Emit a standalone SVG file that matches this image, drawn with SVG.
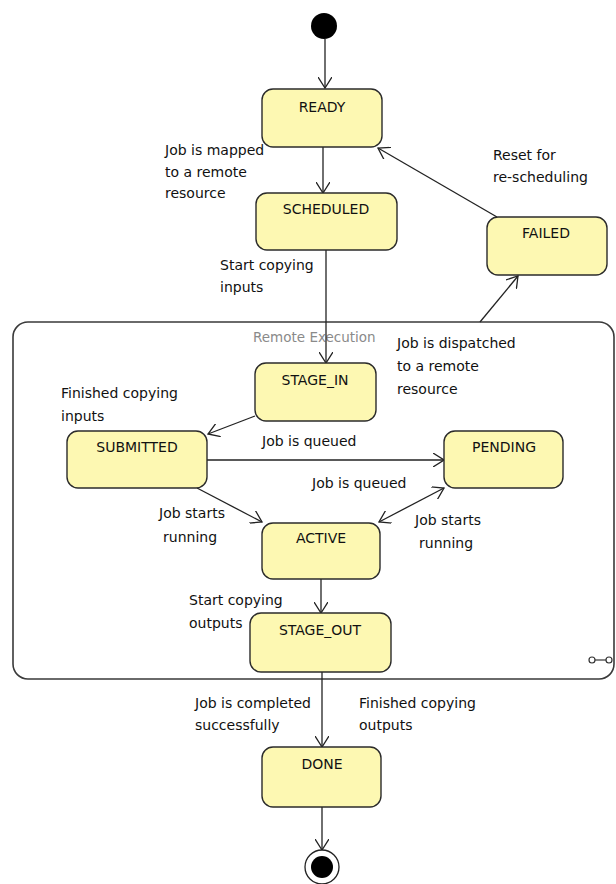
<svg xmlns="http://www.w3.org/2000/svg" width="616" height="884" viewBox="0 0 616 884">
<style>
.st{fill:#fdf8b2;stroke:#2b2b2b;stroke-width:1.4}
.lbl{font-family:"DejaVu Sans",sans-serif;font-size:14px;fill:#111;text-anchor:middle}
.txt{font-family:"DejaVu Sans",sans-serif;font-size:14px;fill:#111}
.gray{font-family:"DejaVu Sans",sans-serif;font-size:13.5px;fill:#8a8a8a}
.ln{stroke:#222;stroke-width:1.3;fill:none}
</style>
<defs>
<marker id="ah" viewBox="0 0 12 14" refX="11" refY="7" markerWidth="12" markerHeight="14" markerUnits="userSpaceOnUse" orient="auto-start-reverse">
<path d="M0,0 L11,7 L0,14" fill="none" stroke="#222" stroke-width="1.3"/>
</marker>
</defs>
<rect width="616" height="884" fill="#fff"/>
<g id="remote-execution">
<rect x="13" y="322" width="601" height="357" rx="15" fill="none" stroke="#3a3a3a" stroke-width="1.6"/>
<text class="gray" x="253" y="342">Remote Execution</text>
<g fill="none" stroke="#333" stroke-width="1.2">
<circle cx="592" cy="660" r="3"/>
<circle cx="609" cy="660" r="3"/>
<line x1="595" y1="660" x2="606" y2="660"/>
</g>
</g>
<g id="connectors">
<line class="ln" x1="325" y1="39" x2="325" y2="88" marker-end="url(#ah)"/>
<line class="ln" x1="323" y1="147" x2="323" y2="193" marker-end="url(#ah)"/>
<line class="ln" x1="326" y1="250" x2="326" y2="363" marker-end="url(#ah)"/>
<line class="ln" x1="497" y1="217" x2="378" y2="148" marker-end="url(#ah)"/>
<line class="ln" x1="480" y1="322" x2="518" y2="276" marker-end="url(#ah)"/>
<line class="ln" x1="255" y1="416" x2="208" y2="434" marker-end="url(#ah)"/>
<line class="ln" x1="207" y1="460" x2="444" y2="460" marker-end="url(#ah)"/>
<line class="ln" x1="197" y1="488" x2="262" y2="522" marker-end="url(#ah)"/>
<line class="ln" x1="379" y1="522" x2="444" y2="488" marker-start="url(#ah)" marker-end="url(#ah)"/>
<line class="ln" x1="321" y1="579" x2="321" y2="613" marker-end="url(#ah)"/>
<line class="ln" x1="322" y1="672" x2="322" y2="747" marker-end="url(#ah)"/>
<line class="ln" x1="322" y1="807" x2="322" y2="850" marker-end="url(#ah)"/>
</g>
<g id="labels">
<text class="txt" x="165" y="155">Job is mapped</text>
<text class="txt" x="165" y="177">to a remote</text>
<text class="txt" x="165" y="198">resource</text>
<text class="txt" x="220" y="270">Start copying</text>
<text class="txt" x="220" y="292">inputs</text>
<text class="txt" x="493" y="160">Reset for</text>
<text class="txt" x="493" y="182">re-scheduling</text>
<text class="txt" x="397" y="348">Job is dispatched</text>
<text class="txt" x="397" y="371">to a remote</text>
<text class="txt" x="397" y="394">resource</text>
<text class="txt" x="61" y="398">Finished copying</text>
<text class="txt" x="61" y="421">inputs</text>
<text class="txt" x="262" y="446">Job is queued</text>
<text class="txt" x="312" y="488">Job is queued</text>
<text class="txt" x="159" y="518">Job starts</text>
<text class="txt" x="163" y="542">running</text>
<text class="txt" x="415" y="525">Job starts</text>
<text class="txt" x="419" y="548">running</text>
<text class="txt" x="189" y="605">Start copying</text>
<text class="txt" x="189" y="628">outputs</text>
<text class="txt" x="195" y="708">Job is completed</text>
<text class="txt" x="195" y="730">successfully</text>
<text class="txt" x="359" y="708">Finished copying</text>
<text class="txt" x="359" y="730">outputs</text>
</g>
<g id="initial"><circle cx="324" cy="26" r="13" fill="#000"/></g>
<g id="ready"><rect class="st" x="262" y="89" width="120" height="58" rx="11"/><text class="lbl" x="322" y="112">READY</text></g>
<g id="scheduled"><rect class="st" x="256" y="193" width="141" height="57" rx="11"/><text class="lbl" x="326" y="214">SCHEDULED</text></g>
<g id="failed"><rect class="st" x="487" y="217" width="120" height="58" rx="11"/><text class="lbl" x="546" y="238">FAILED</text></g>
<g id="stage-in"><rect class="st" x="255" y="363" width="121" height="58" rx="11"/><text class="lbl" x="315" y="385">STAGE_IN</text></g>
<g id="submitted"><rect class="st" x="67" y="431" width="140" height="57" rx="11"/><text class="lbl" x="137" y="452">SUBMITTED</text></g>
<g id="pending"><rect class="st" x="444" y="431" width="119" height="57" rx="11"/><text class="lbl" x="504" y="452">PENDING</text></g>
<g id="active"><rect class="st" x="262" y="523" width="118" height="56" rx="11"/><text class="lbl" x="321" y="543">ACTIVE</text></g>
<g id="stage-out"><rect class="st" x="250" y="613" width="141" height="59" rx="11"/><text class="lbl" x="320" y="635">STAGE_OUT</text></g>
<g id="done"><rect class="st" x="262" y="747" width="119" height="60" rx="11"/><text class="lbl" x="322" y="769">DONE</text></g>
<g id="final"><circle cx="322" cy="867" r="17" fill="#fff" stroke="#222" stroke-width="1.3"/><circle cx="322" cy="867" r="11" fill="#000"/></g>
</svg>
